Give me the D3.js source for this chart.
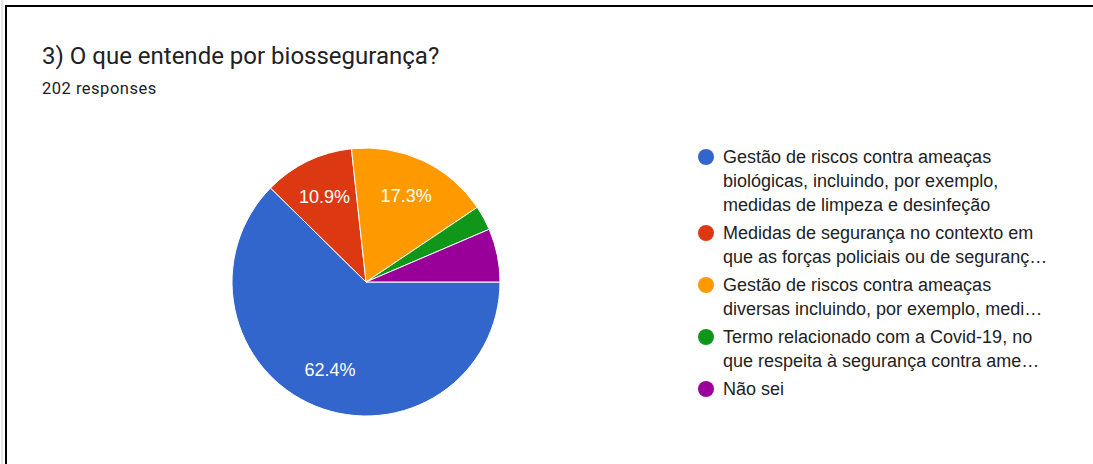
<!DOCTYPE html>
<html lang="pt">
<head>
  <meta charset="utf-8">
  <title>biosseguranca</title>
  <style>
    html, body { margin: 0; padding: 0; background: #fff; }
    svg { display: block; }
  </style>
</head>
<body>
  <svg class="canvas" width="1093" height="464"></svg>

  <script src="https://cdn.jsdelivr.net/npm/d3@7/dist/d3.min.js"></script>
  <script>

// data (202 responses)
const categories = [
  "Gestão de riscos contra ameaças biológicas, incluindo, por exemplo, medidas de limpeza e desinfeção",
  "Medidas de segurança no contexto em que as forças policiais ou de segurança",
  "Gestão de riscos contra ameaças diversas incluindo, por exemplo, medidas",
  "Termo relacionado com a Covid-19, no que respeita à segurança contra ameaças",
  "Não sei"
]
const counts = [126, 22, 35, 6, 13]
const colors = ["#3366cc", "#dc3912", "#ff9900", "#109618", "#990099"]
// legend text as it is wrapped / cut in the picture
const legendLines = [
  ["Gestão de riscos contra ameaças", "biológicas, incluindo, por exemplo,", "medidas de limpeza e desinfeção"],
  ["Medidas de segurança no contexto em", "que as forças policiais ou de seguranç…"],
  ["Gestão de riscos contra ameaças", "diversas incluindo, por exemplo, medi…"],
  ["Termo relacionado com a Covid-19, no", "que respeita à segurança contra ame…"],
  ["Não sei"]
]
const title = "3) O que entende por biossegurança?"
const subtitle = "202 responses"

let svg = d3.select(".canvas")

// frame of the screenshot
svg.append("line").attr("x1", 2).attr("y1", 0).attr("x2", 2).attr("y2", 464)
  .attr("stroke", "#ccc").attr("stroke-width", 1)
svg.append("path").attr("d", "M6,464V6H1093")
  .attr("fill", "none").attr("stroke", "#000").attr("stroke-width", 2)

svg.append("text").attr("x", 42).attr("y", 64)
  .style("font-family", "Roboto").style("font-size", "24px").attr("fill", "#202124")
  .text(title)
svg.append("text").attr("x", 42).attr("y", 94)
  .style("font-family", "Roboto").style("font-size", "16.5px").style("letter-spacing", "0.5px")
  .attr("fill", "#202124")
  .text(subtitle)

/** pie **/
const cx = 366, cy = 282, r = 134
const total = d3.sum(counts)

let pie = d3.pie().sort(null)
  .startAngle(Math.PI / 2).endAngle(Math.PI / 2 + 2 * Math.PI)
let arc = d3.arc().innerRadius(0).outerRadius(r)
let labelArc = d3.arc().innerRadius(r * 0.71).outerRadius(r * 0.71)

let g = svg.append("g").attr("transform", "translate(" + cx + "," + cy + ")")
let arcs = pie(counts)

g.selectAll("path").data(arcs)
  .enter().append("path")
    .attr("d", arc)
    .attr("fill", function(d, i) { return colors[i] })
    .attr("stroke", "#fff").attr("stroke-width", 1)

// only the big slices get a percentage
g.selectAll("text").data(arcs.filter(function(d) { return d.value / total > 0.1 }))
  .enter().append("text")
    .attr("transform", function(d) { return "translate(" + labelArc.centroid(d) + ")" })
    .attr("text-anchor", "middle").attr("dy", "0.35em")
    .style("font-family", "Liberation Sans, Arial").style("font-size", "18px")
    .attr("fill", "#fff")
    .text(function(d) { return (d.value / total * 100).toFixed(1) + "%" })

/** legend **/
const lx = 706, ly = 157, lineH = 24, gap = 4
let y = ly
let legend = svg.append("g")
legendLines.forEach(function(lines, i) {
  let item = legend.append("g")
  item.append("circle").attr("cx", lx).attr("cy", y).attr("r", 8).attr("fill", colors[i])
  item.selectAll("text").data(lines)
    .enter().append("text")
      .attr("x", lx + 17)
      .attr("y", function(d, j) { return y + j * lineH })
      .attr("dy", "0.35em")
      .style("font-family", "Liberation Sans, Arial").style("font-size", "18px")
      .attr("fill", "#222")
      .text(function(d) { return d })
  y += lines.length * lineH + gap
})

  </script>
</body>
</html>
